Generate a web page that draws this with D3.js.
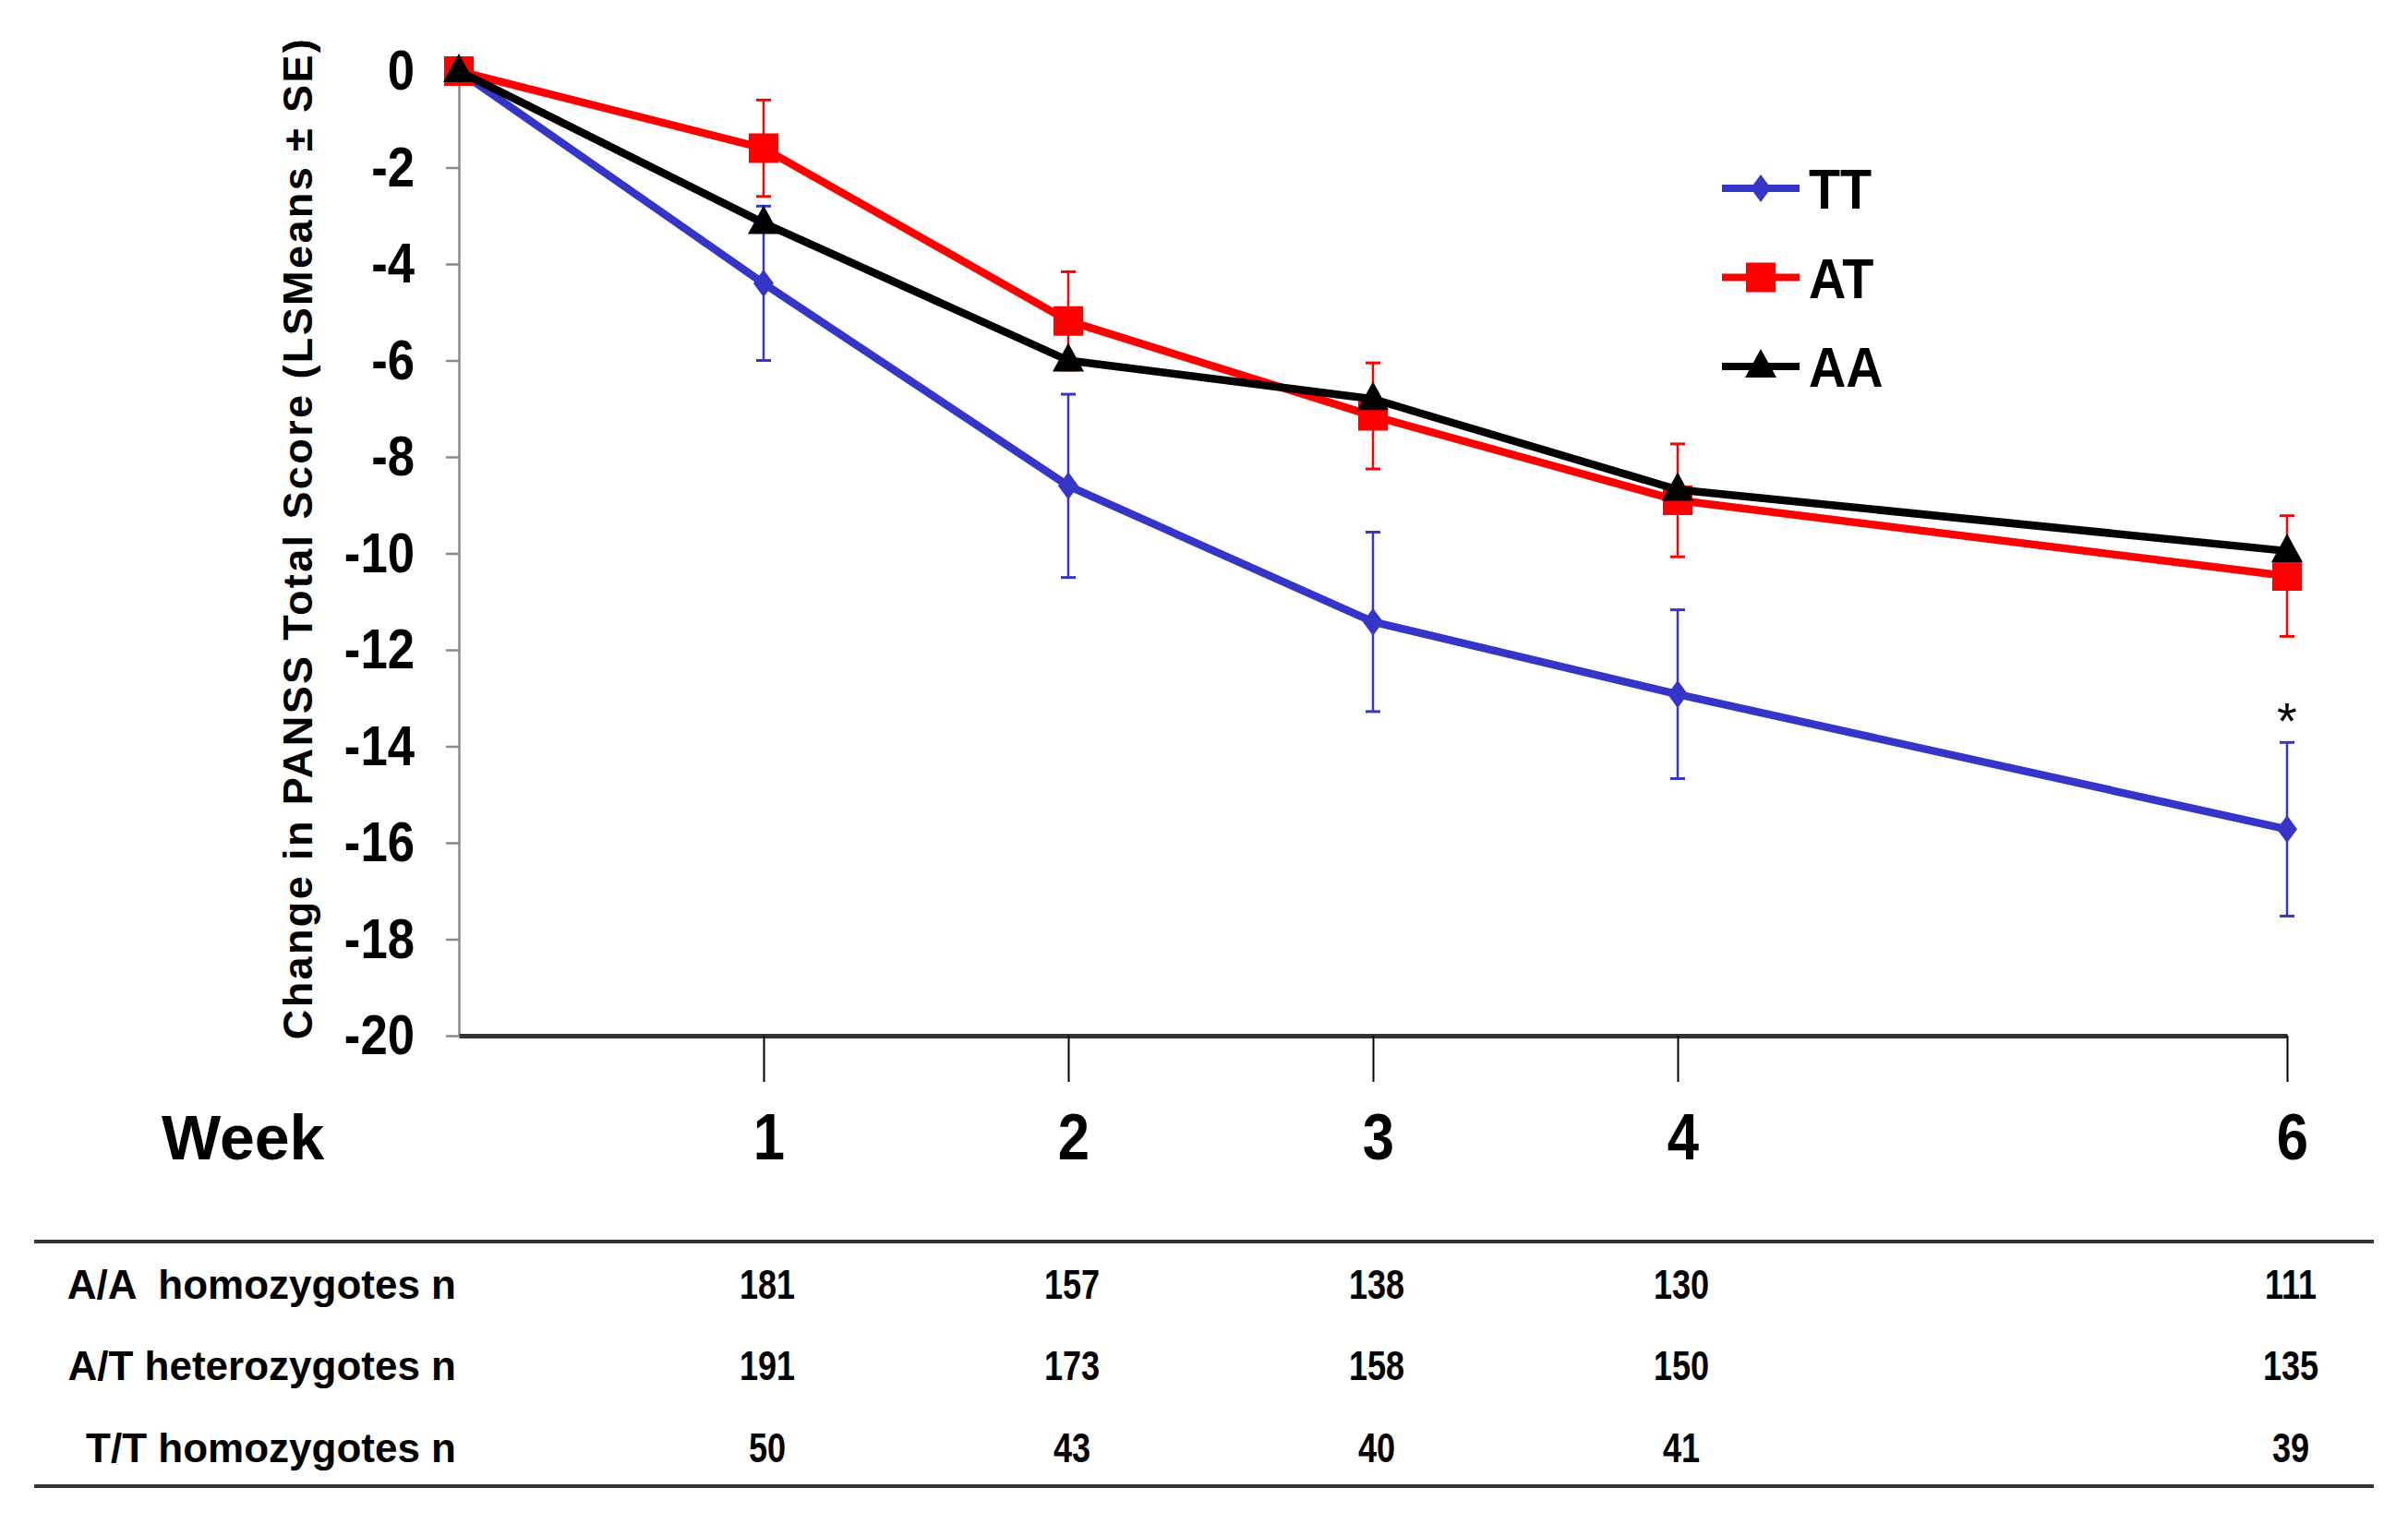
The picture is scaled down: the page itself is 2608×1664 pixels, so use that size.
<!DOCTYPE html>
<html>
<head>
<meta charset="utf-8">
<script src="https://cdn.jsdelivr.net/npm/d3@7"></script>
<style>
  body { margin: 0; background: #fff; }
  text { font-family: "Liberation Sans", Arial, sans-serif; font-weight: bold; }
</style>
</head>
<body>
<div id="chart"></div>
<script>
// Data
const weeks = [0, 1, 2, 3, 4, 6];
const tickWeeks = [1, 2, 3, 4, 6];
const seriesNames = ["TT", "AT", "AA"];
const ttMeans = [0, -4.4, -8.6, -11.42, -12.92, -15.72];
const ttSE = [0, 1.6, 1.9, 1.86, 1.75, 1.8];
const atMeans = [0, -1.6, -5.18, -7.15, -8.9, -10.47];
const atSE = [0, 1.0, 1.02, 1.1, 1.17, 1.25];
const aaMeans = [0, -3.15, -6.0, -6.8, -8.68, -9.95];
const yTicks = d3.range(0, -21, -2);

const rowLabels = ["A/A  homozygotes n", "A/T heterozygotes n", "T/T homozygotes n"];
const aaCounts = [181, 157, 138, 130, 111];
const atCounts = [191, 173, 158, 150, 135];
const ttCounts = [50, 43, 40, 41, 39];

const W = 2608, H = 1664;

// Layout
const xScale = d3.scaleLinear().domain([0, 6]).range([497, 2477]);
const yScale = d3.scaleLinear().domain([0, -20]).range([77, 1122]);

const colors = { TT: "#3535c8", AT: "#ff0000", AA: "#000000" };

const svg = d3.select("#chart").append("svg")
  .attr("width", W)
  .attr("height", H);

// squeeze text horizontally (the original uses a narrow face)
function condense(sel, k) {
  sel.each(function() {
    const len = this.getComputedTextLength();
    d3.select(this).attr("textLength", len * k).attr("lengthAdjust", "spacingAndGlyphs");
  });
}

// y axis
const yAxis = svg.append("g")
  .attr("transform", `translate(${xScale(0)},0)`)
  .call(d3.axisLeft(yScale).tickValues(yTicks).tickSize(14).tickSizeOuter(0).tickPadding(34)
    .tickFormat(d => d === 0 ? "0" : "-" + Math.abs(d)));
yAxis.select(".domain").attr("stroke", "#8a8a8a").attr("stroke-width", 2.5);
yAxis.selectAll(".tick line").attr("stroke", "#8a8a8a").attr("stroke-width", 2.5);
yAxis.selectAll(".tick text")
  .attr("fill", "#000")
  .style("font-size", "62px")
  .style("font-family", "'Liberation Sans', Arial, sans-serif")
  .style("font-weight", "bold")
  .call(condense, 0.85);

// y axis title
svg.append("text")
  .attr("transform", `translate(338,583) rotate(-90)`)
  .attr("text-anchor", "middle")
  .style("font-size", "45px")
  .style("letter-spacing", "2.4px")
  .text("Change in PANSS Total Score (LSMeans \u00B1 SE)");

// x axis
const xAxis = svg.append("g")
  .attr("transform", `translate(0,${yScale(-20)})`)
  .call(d3.axisBottom(xScale).tickValues(tickWeeks).tickSize(50).tickSizeOuter(0).tickFormat(""));
xAxis.select(".domain").attr("stroke", "#333").attr("stroke-width", 5);
xAxis.selectAll(".tick line").attr("stroke", "#000").attr("stroke-width", 2);

// week labels
svg.append("text")
  .attr("x", 175)
  .attr("y", 1256)
  .style("font-size", "68px")
  .text("Week");

svg.selectAll(".week-label")
  .data(tickWeeks)
  .join("text")
  .attr("class", "week-label")
  .attr("x", d => xScale(d) + 6)
  .attr("y", 1256)
  .attr("text-anchor", "middle")
  .style("font-size", "70px")
  .text(d => d)
  .call(condense, 0.88);

// series
const series = [
  { name: "TT", means: ttMeans, se: ttSE },
  { name: "AT", means: atMeans, se: atSE },
  { name: "AA", means: aaMeans, se: null }
];

const line = d3.line()
  .x((d, i) => xScale(weeks[i]))
  .y(d => yScale(d));

const capW = 8;

function markerPath(name) {
  if (name === "TT") return "M0,-15L11,0L0,15L-11,0Z";
  if (name === "AT") return "M-16,-16H16V16H-16Z";
  return "M0,-19L17,12H-17Z";
}

series.forEach(s => {
  const g = svg.append("g");
  const c = colors[s.name];
  // error bars
  if (s.se) {
    const eb = g.selectAll(".eb")
      .data(weeks.map((w, i) => ({ w: w, m: s.means[i], e: s.se[i] })).filter(d => d.e > 0))
      .join("g");
    eb.append("line")
      .attr("x1", d => xScale(d.w)).attr("x2", d => xScale(d.w))
      .attr("y1", d => yScale(d.m + d.e)).attr("y2", d => yScale(d.m - d.e))
      .attr("stroke", c).attr("stroke-width", 2.5);
    eb.append("line")
      .attr("x1", d => xScale(d.w) - capW).attr("x2", d => xScale(d.w) + capW)
      .attr("y1", d => yScale(d.m + d.e)).attr("y2", d => yScale(d.m + d.e))
      .attr("stroke", c).attr("stroke-width", 3);
    eb.append("line")
      .attr("x1", d => xScale(d.w) - capW).attr("x2", d => xScale(d.w) + capW)
      .attr("y1", d => yScale(d.m - d.e)).attr("y2", d => yScale(d.m - d.e))
      .attr("stroke", c).attr("stroke-width", 3);
  }
  g.append("path")
    .datum(s.means)
    .attr("d", line)
    .attr("fill", "none")
    .attr("stroke", c)
    .attr("stroke-width", 8.5)
    .attr("stroke-linejoin", "round");
  g.selectAll(".mk")
    .data(s.means)
    .join("path")
    .attr("transform", (d, i) => `translate(${xScale(weeks[i])},${yScale(d)})`)
    .attr("d", markerPath(s.name))
    .attr("fill", c);
});

// significance asterisk
svg.append("text")
  .attr("x", xScale(6))
  .attr("y", 800)
  .attr("text-anchor", "middle")
  .style("font-size", "56px")
  .style("font-weight", "normal")
  .text("*");

// legend
const legY = d3.scalePoint().domain(seriesNames).range([204, 397]);
const leg = svg.selectAll(".leg")
  .data(seriesNames)
  .join("g")
  .attr("class", "leg")
  .attr("transform", d => `translate(1907,${legY(d)})`);
leg.append("line")
  .attr("x1", -42).attr("x2", 42)
  .attr("stroke", d => colors[d])
  .attr("stroke-width", 8);
leg.append("path")
  .attr("d", d => markerPath(d))
  .attr("fill", d => colors[d]);
leg.append("text")
  .attr("x", 52)
  .attr("dy", "0.36em")
  .style("font-size", "62px")
  .text(d => d)
  .call(condense, 0.9);

// table
const tableRows = [aaCounts, atCounts, ttCounts];
const rowY = d3.scalePoint().domain(d3.range(3)).range([1391, 1568]);

svg.append("line")
  .attr("x1", 37).attr("x2", 2571)
  .attr("y1", 1345).attr("y2", 1345)
  .attr("stroke", "#333").attr("stroke-width", 4);
svg.append("line")
  .attr("x1", 37).attr("x2", 2571)
  .attr("y1", 1610).attr("y2", 1610)
  .attr("stroke", "#333").attr("stroke-width", 4);

svg.selectAll(".row-label")
  .data(rowLabels)
  .join("text")
  .attr("class", "row-label")
  .attr("x", 494)
  .attr("y", (d, i) => rowY(i))
  .attr("dy", "0.36em")
  .attr("text-anchor", "end")
  .style("font-size", "44px")
  .style("white-space", "pre")
  .text(d => d);

tableRows.forEach((row, ri) => {
  svg.selectAll(".cell-" + ri)
    .data(row)
    .join("text")
    .attr("class", "cell-" + ri)
    .attr("x", (d, i) => xScale(tickWeeks[i]) + 4)
    .attr("y", rowY(ri))
    .attr("dy", "0.36em")
    .attr("text-anchor", "middle")
    .style("font-size", "44px")
    .text(d => d)
    .call(condense, 0.82);
});
</script>
</body>
</html>
